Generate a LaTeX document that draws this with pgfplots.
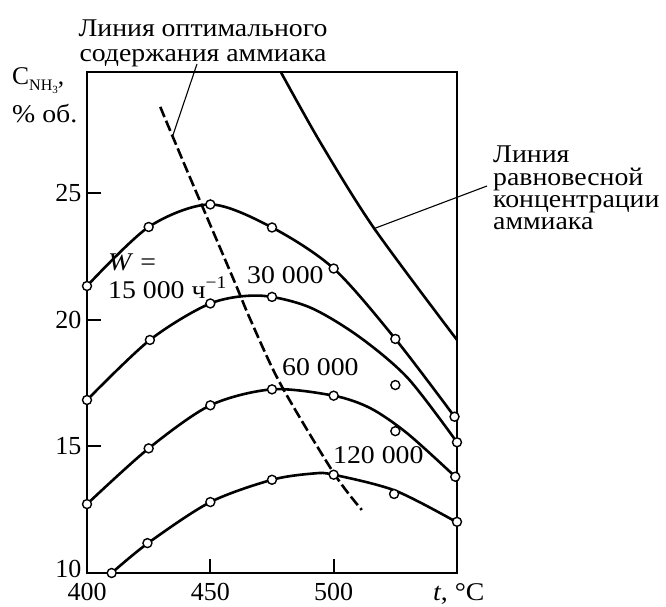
\documentclass[border=0pt]{standalone}
\usepackage{fontspec}
\setmainfont{Liberation Serif}
\usepackage{pgfplots}
\pgfplotsset{compat=1.18}
\newcommand{\fs}{\fontsize{25.5}{25.5}\selectfont}
\newcommand{\sx}[1]{\scalebox{1.09}[1]{#1}}
\begin{document}
\begin{tikzpicture}
\useasboundingbox (0,0) rectangle (666pt,606pt);
\begin{axis}[
  at={(87pt,33pt)}, anchor=south west,
  scale only axis, width=370pt, height=501.3pt,
  xmin=400, xmax=550, ymin=10, ymax=29.79,
  xtick={400,450,500}, ytick={10,15,20,25},
  xticklabels={400,450,500},
  yticklabels={\raisebox{8pt}{10},15,20,25},
  tick align=inside, xtick pos=left, ytick pos=left,
  major tick length=14pt,
  tick style={line width=2pt, black},
  axis line style={line width=2.2pt},
  ticklabel style={font=\fontsize{26}{26}\selectfont},
  xticklabel style={yshift=-7pt},
  yticklabel style={xshift=-2pt},
  clip=false,
]
% W = 15000
\addplot[line width=2.6pt, smooth] coordinates {(400,21.33) (425,23.66) (450,24.55) (475,23.64) (500,22.02) (525,19.24) (549,16.17)};
% W = 30000
\addplot[line width=2.6pt, smooth] coordinates {(400,16.83) (425.5,19.2) (450,20.64) (470,20.95) (490,20.5) (510,19.35) (530,17.7) (550,15.16)};
% W = 60000
\addplot[line width=2.6pt, smooth] coordinates {(400,12.72) (425,14.92) (450,16.62) (475,17.25) (500,17.0) (515,16.5) (530,15.5) (549.3,13.8)};
% W = 120000
\addplot[line width=2.6pt, smooth] coordinates {(410,10) (425,11.2) (450,12.8) (475,13.68) (492,13.93) (500,13.88) (525,13.25) (550,12.0)};
% optimal line
\addplot[line width=2.6pt, smooth, dash pattern=on 11pt off 4pt] coordinates {(429.7,28.4) (440.5,25.9) (459.5,21.57) (466.3,19.99) (478.5,17.45) (500,13.95) (511.4,12.49)};
% equilibrium line
\addplot[line width=2.6pt, smooth] coordinates {(478.5,29.79) (494.7,26.98) (516.3,23.62) (550,19.2)};
% markers
\addplot[only marks, mark=*, mark size=4.5pt, mark options={fill=white, draw=black, line width=1.4pt}] coordinates {(400,21.33) (425,23.66) (450,24.55) (475,23.64) (500,22.02) (525,19.24) (549,16.17)};
\addplot[only marks, mark=*, mark size=4.5pt, mark options={fill=white, draw=black, line width=1.4pt}] coordinates {(400,16.83) (425.5,19.2) (450,20.64) (475,20.9) (525,17.42) (550,15.16)};
\addplot[only marks, mark=*, mark size=4.5pt, mark options={fill=white, draw=black, line width=1.4pt}] coordinates {(400,12.72) (425,14.92) (450,16.62) (475,17.25) (500,17.0) (525,15.6) (549.3,13.8)};
\addplot[only marks, mark=*, mark size=4.5pt, mark options={fill=white, draw=black, line width=1.4pt}] coordinates {(410,10) (424.5,11.18) (450,12.8) (475,13.68) (500,13.88) (524.5,13.12) (550,12.02)};
\end{axis}
% leader lines
\draw[line width=1.1pt] (173pt,471pt) -- (197pt,542pt);
\draw[line width=1.1pt] (373pt,377pt) -- (487pt,420pt);
% texts
\node[anchor=base, inner sep=0pt, align=center, font={\fontsize{25.5}{25pt}\selectfont\lineskiplimit=-100pt}] at (203pt,544pt) {\sx{Линия оптимального}\\\sx{содержания аммиака}};
\node[anchor=base west, inner sep=0pt, align=left, font={\fontsize{25.5}{22.4pt}\selectfont\lineskiplimit=-100pt}] at (493pt,376pt) {\sx{Линия}\\\sx{равновесной}\\\sx{концентрации}\\\sx{аммиака}};
\node[anchor=base west, inner sep=0pt] at (108pt,336pt) {\fs \sx{\textit{W} =}};
\node[anchor=base west, inner sep=0pt] at (108pt,308pt) {\fs \sx{15 000 ч\textsuperscript{−1}}};
\node[anchor=base west, inner sep=0pt] at (247pt,323pt) {\fs \sx{30 000}};
\node[anchor=base west, inner sep=0pt] at (282pt,231pt) {\fs \sx{60 000}};
\node[anchor=base west, inner sep=0pt] at (333pt,143pt) {\fs \sx{120 000}};
\node[anchor=base west, inner sep=0pt] at (12pt,521pt) {\fs C\raisebox{-0.22em}{\fontsize{16}{16}\selectfont NH\raisebox{-0.15em}{\fontsize{11}{11}\selectfont 3}},};
\node[anchor=base west, inner sep=0pt] at (12pt,483pt) {\fs \sx{\% об.}};
\node[anchor=base west, inner sep=0pt] at (433pt,6pt) {\fs \sx{\textit{t}, °C}};
\end{tikzpicture}
\end{document}
